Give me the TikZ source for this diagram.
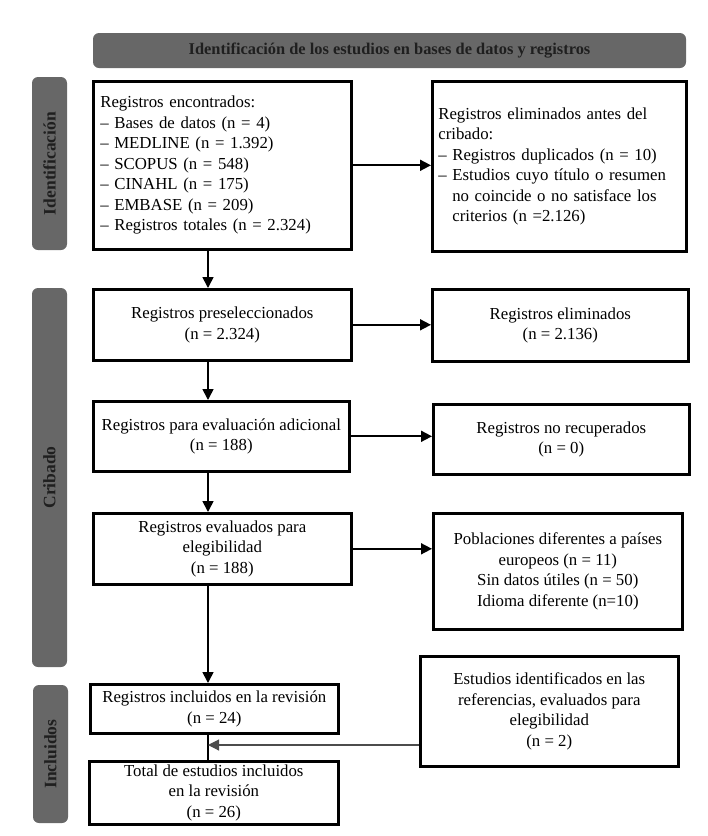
\documentclass[tikz,border=0pt]{standalone}
\usepackage{fontspec}
\setmainfont{Liberation Serif}
\usetikzlibrary{arrows.meta}
\definecolor{bandgray}{HTML}{676767}
\begin{document}
\begin{tikzpicture}[x=1pt,y=-1pt,line width=1.7pt,font=\fontsize{16.8}{20.5}\selectfont,
  box/.style={draw,line width=2.6pt,inner sep=6pt,align=center,anchor=north west},
  band/.style={fill=bandgray,rounded corners=6pt,inner sep=0pt,font=\fontsize{17.5}{20}\selectfont\bfseries,text=black!88},
  link/.style={-{Triangle[length=11pt,width=11pt]}}]
\useasboundingbox (0,0) rectangle (708,836);
\node[band,minimum width=593pt,minimum height=35pt,font=\fontsize{16.4}{20}\selectfont\bfseries] (head) at (389.5,50.5) {Identificación de los estudios en bases de datos y registros};
\node[band,rotate=90,minimum width=173pt,minimum height=35pt] (bident) at (49.5,163.5) {Identificación};
\node[band,rotate=90,minimum width=379pt,minimum height=35pt] (bcrib) at (49.5,477.5) {Cribado};
\node[band,rotate=90,minimum width=138pt,minimum height=35pt] (bincl) at (50.5,754) {Incluidos};
\node[box,align=left,minimum width=258pt,minimum height=168pt,text width=244pt] (enc) at (92,80) {Registros encontrados:\\-- Bases de datos (n = 4)\\-- MEDLINE (n = 1.392)\\-- SCOPUS (n = 548)\\-- CINAHL (n = 175)\\-- EMBASE (n = 209)\\-- Registros totales (n = 2.324)};
\node[box,align=left,minimum width=254pt,minimum height=170pt,text width=242pt] (elimant) at (431,80) {Registros eliminados antes del\\cribado:\\-- Registros duplicados (n = 10)\\-- Estudios cuyo título o resumen\\\phantom{-- }no coincide o no satisface los\\\phantom{-- }criterios (n =2.126)\\[10pt]};
\node[box,minimum width=258pt,minimum height=71pt] (presel) at (92,288) {Registros preseleccionados\\(n = 2.324)};
\node[box,minimum width=256pt,minimum height=72pt] (elim) at (431,288) {Registros eliminados\\(n = 2.136)};
\node[box,minimum width=256pt,minimum height=70pt] (adic) at (92,400) {Registros para evaluación adicional\\(n = 188)};
\node[box,minimum width=256pt,minimum height=70pt] (norec) at (432,403) {Registros no recuperados\\(n = 0)};
\node[box,minimum width=258pt,minimum height=71pt] (eleg) at (92,512) {Registros evaluados para\\elegibilidad\\(n = 188)};
\node[box,minimum width=249pt,minimum height=116pt] (pobl) at (432,512) {Poblaciones diferentes a países\\europeos (n = 11)\\Sin datos útiles (n = 50)\\Idioma diferente (n=10)};
\node[box,minimum width=248pt,minimum height=49pt] (incl) at (89,683) {Registros incluidos en la revisión\\(n = 24)};
\node[box,minimum width=258pt,minimum height=110pt] (refs) at (419,655) {Estudios identificados en las\\referencias, evaluados para\\elegibilidad\\(n = 2)};
\node[box,minimum width=249pt,minimum height=63pt,inner sep=3pt] (total) at (88,760) {Total de estudios incluidos\\en la revisión\\(n = 26)};
\coordinate (spine) at (208,0);
\coordinate (join) at (208,745);
\draw[link] (enc.south -| spine) -- (presel.north -| spine);
\draw[link] (presel.south -| spine) -- (adic.north -| spine);
\draw[link] (adic.south -| spine) -- (eleg.north -| spine);
\draw[link] (eleg.south -| spine) -- (incl.north -| spine);
\draw (incl.south -| spine) -- (total.north -| spine);
\draw[link] (enc.east) -- (elimant.west |- enc.east);
\draw[link] (presel.east) -- (elim.west |- presel.east);
\draw[link] (adic.east) -- (norec.west |- adic.east);
\draw[link] (eleg.east) -- (pobl.west |- eleg.east);
\draw[link,line width=1.1pt,black!70] (refs.west |- join) -- (join);
\end{tikzpicture}
\end{document}
